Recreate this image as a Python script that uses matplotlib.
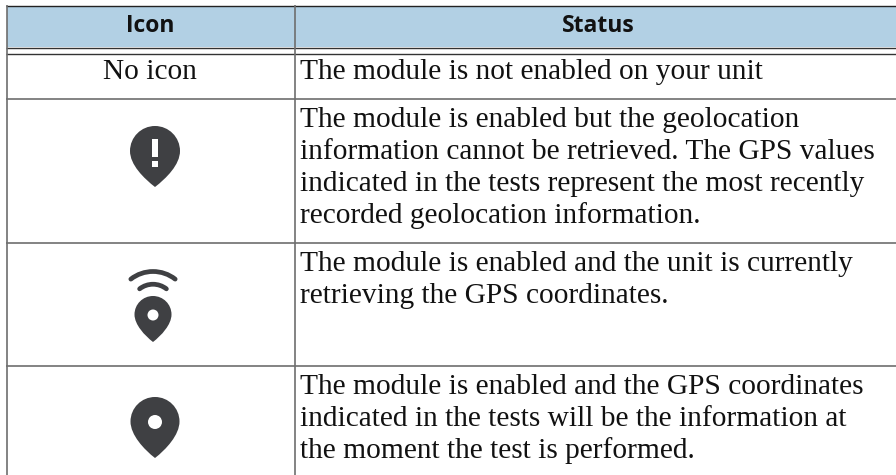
import numpy as np
import matplotlib
matplotlib.use("Agg")
import matplotlib.pyplot as plt
from matplotlib.patches import Rectangle, Circle, PathPatch, Arc
from matplotlib.path import Path

headers = ["Icon", "Status"]
no_icon = "No icon"
status = [
    ["The module is not enabled on your unit"],
    ["The module is enabled but the geolocation",
     "information cannot be retrieved. The GPS values",
     "indicated in the tests represent the most recently",
     "recorded geolocation information."],
    ["The module is enabled and the unit is currently",
     "retrieving the GPS coordinates."],
    ["The module is enabled and the GPS coordinates",
     "indicated in the tests will be the information at",
     "the moment the test is performed."],
]

W, H = 896, 475
SERIF = "Liberation Serif"
DARK = "#3f4043"
LINE = "#6e6e6e"


def draw_pin(ax, cx, top, r, tip):
    # teardrop: round head, straight sides down to the tip
    cy = top + r
    k = 0.5523 * r
    verts = [
        (cx - r, cy), (cx - r, cy - k), (cx - k, top), (cx, top),
        (cx + k, top), (cx + r, cy - k), (cx + r, cy),
        (cx + r, cy + r * 0.55), (cx + r * 0.45, tip - r * 0.35), (cx, tip),
        (cx - r * 0.45, tip - r * 0.35), (cx - r, cy + r * 0.55), (cx - r, cy),
        (cx - r, cy),
    ]
    codes = [Path.MOVETO] + [Path.CURVE4] * 12 + [Path.CLOSEPOLY]
    ax.add_patch(PathPatch(Path(verts, codes), fc=DARK, ec="none", zorder=3))


fig = plt.figure(figsize=(W / 100, H / 100), dpi=100)
ax = fig.add_axes([0, 0, 1, 1])
ax.set_xlim(0, W)
ax.set_ylim(H, 0)
ax.axis("off")

ax.add_patch(Rectangle((7, 6), W - 7, 41, fc="#b2d0e4", ec="none"))

ax.hlines(5.5, 6, W, color="#222222", lw=1.0)
ax.hlines(47.5, 6, W, color="#333333", lw=1.0)
ax.hlines(53.5, 6, W, color="#333333", lw=1.0)
for y in [98.5, 242.5, 365.5]:
    ax.hlines(y, 6, W, color=LINE, lw=1.2)
ax.vlines(6.5, 5, H, color=LINE, lw=1.2)
ax.vlines(294.5, 5, H, color=LINE, lw=1.2)

for x, label in zip([150, 598], headers):
    ax.text(x, 32, label, ha="center", va="baseline", fontsize=16.5,
            fontweight="bold", family="Open Sans", color="#111111")

ax.text(150, 79, no_icon, ha="center", va="baseline", fontsize=21.2,
        family=SERIF, color="#111111")

first_base = [79, 127, 271, 394]
for lines, y0 in zip(status, first_base):
    for i, line in enumerate(lines):
        ax.text(299.5, y0 + i * 32, line, ha="left", va="baseline",
                fontsize=21.2, family=SERIF, color="#111111")

# alert icon
draw_pin(ax, 155, 126, 25, 187)
ax.add_patch(Rectangle((152, 139), 6, 18, fc="white", ec="none", zorder=4))
ax.add_patch(Rectangle((152, 161), 6, 6, fc="white", ec="none", zorder=4))

# searching icon
draw_pin(ax, 153, 296, 18.5, 342)
ax.add_patch(Circle((153, 315), 5.5, fc="white", ec="none", zorder=4))
ax.add_patch(Arc((153, 307.5), 72, 72, theta1=232, theta2=308, ec=DARK, lw=3.4,
                 capstyle="round", zorder=3))
ax.add_patch(Arc((153, 306), 43.5, 43.5, theta1=232, theta2=308, ec=DARK, lw=3.4,
                 capstyle="round", zorder=3))

# position fixed icon
draw_pin(ax, 155, 397, 24.5, 458)
ax.add_patch(Circle((155, 422), 7, fc="white", ec="none", zorder=4))

fig.savefig("out.png", dpi=100)
